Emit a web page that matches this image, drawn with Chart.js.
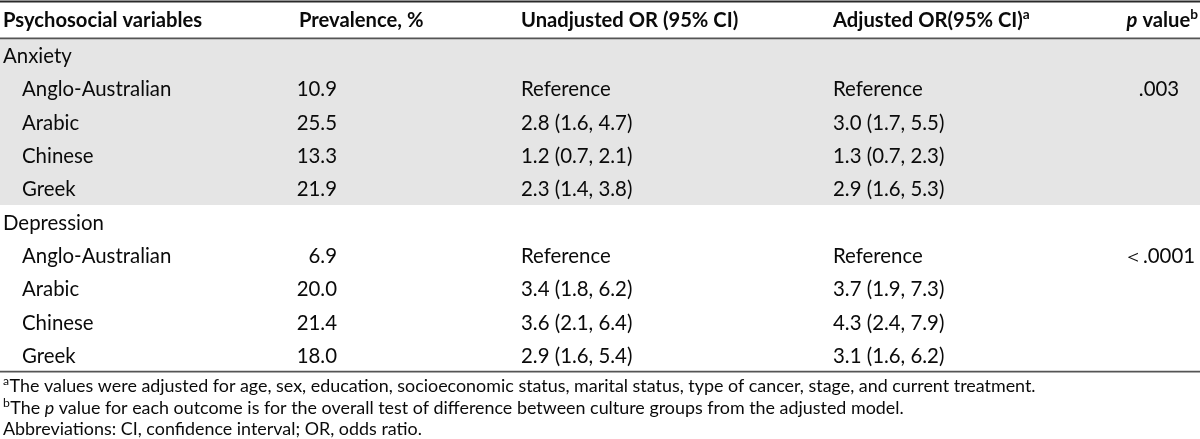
<!DOCTYPE html>
<html><head><meta charset="utf-8">
<script src="https://cdn.jsdelivr.net/npm/chart.js@4.4.0/dist/chart.umd.min.js"></script>
<style>html,body{margin:0;padding:0;background:#fff;}#wrap{width:1200px;height:439px;}</style>
</head><body><div id="wrap"><canvas id="c" width="1200" height="439"></canvas></div>
<script>
// ---- data ----
const headers = ['Psychosocial variables', 'Prevalence, %', 'Unadjusted OR (95% CI)', 'Adjusted OR(95% CI)', 'p value'];
const headerSups = [null, null, null, 'a', 'b'];
const rowLabels = ['Anxiety', 'Anglo-Australian', 'Arabic', 'Chinese', 'Greek',
                   'Depression', 'Anglo-Australian', 'Arabic', 'Chinese', 'Greek'];
const groupRow = [true, false, false, false, false, true, false, false, false, false];
const prevalence = [null, 10.9, 25.5, 13.3, 21.9, null, 6.9, 20.0, 21.4, 18.0];
const unadjustedOR = [null, 'Reference', '2.8 (1.6, 4.7)', '1.2 (0.7, 2.1)', '2.3 (1.4, 3.8)',
                      null, 'Reference', '3.4 (1.8, 6.2)', '3.6 (2.1, 6.4)', '2.9 (1.6, 5.4)'];
const adjustedOR = [null, 'Reference', '3.0 (1.7, 5.5)', '1.3 (0.7, 2.3)', '2.9 (1.6, 5.3)',
                    null, 'Reference', '3.7 (1.9, 7.3)', '4.3 (2.4, 7.9)', '3.1 (1.6, 6.2)'];
const pValues = [null, '.003', null, null, null, null, '\uFF1C.0001', null, null, null];
const footnotes = [
  [{sup: 'a'}, {t: 'The values were adjusted for age, sex, education, socioeconomic status, marital status, type of cancer, stage, and current treatment.'}],
  [{sup: 'b'}, {t: 'The '}, {t: 'p', it: true}, {t: ' value for each outcome is for the overall test of difference between culture groups from the adjusted model.'}],
  [{t: 'Abbreviations: CI, confidence interval; OR, odds ratio.'}]
];

// ---- style ----
const FAM = 'Lato, "Open Sans", sans-serif';
const BODY = 20.4, HEAD = 20.2, FOOT = 17.9;
const TXT = '#0a0a0a';

function drawParts(ctx, parts, x, y, align, size, bold) {
  const w0 = bold ? 'bold ' : '';
  const fonts = parts.map(p => p.sup ? `${w0}${(size*0.68).toFixed(1)}px ${FAM}` :
                                 `${p.it ? 'italic ' : ''}${w0}${size}px ${FAM}`);
  let total = 0;
  parts.forEach((p, i) => { ctx.font = fonts[i]; total += ctx.measureText(p.sup || p.t).width; });
  let cx = align === 'right' ? x - total : align === 'center' ? x - total / 2 : x;
  parts.forEach((p, i) => {
    ctx.font = fonts[i];
    const s = p.sup || p.t;
    ctx.fillText(s, cx, p.sup ? y - size * 0.4 : y);
    cx += ctx.measureText(s).width + (p.sup ? 0.5 : 0);
  });
}

const tablePlugin = {
  id: 'table',
  beforeDraw(chart) {
    const {ctx, chartArea} = chart;
    const y = chart.scales.y;
    const half = (y.getPixelForValue(1) - y.getPixelForValue(0)) / 2;
    ctx.save();
    ctx.fillStyle = '#e5e5e5';
    const t = y.getPixelForValue(0) - half, b = y.getPixelForValue(4) + half;
    ctx.fillRect(chartArea.left, t, chartArea.right - chartArea.left, b - t);
    ctx.restore();
  },
  afterDraw(chart) {
    const {ctx, chartArea} = chart;
    const y = chart.scales.y, x = chart.scales.x;
    const col = {
      label: x.getPixelForValue(3), indent: x.getPixelForValue(22),
      prevHead: x.getPixelForValue(299), prev: x.getPixelForValue(337),
      unadj: x.getPixelForValue(521), adj: x.getPixelForValue(833),
      pHeadR: x.getPixelForValue(1198), p: x.getPixelForValue(1159)
    };
    ctx.save();
    ctx.textBaseline = 'alphabetic';
    ctx.fillStyle = TXT;
    // rules
    ctx.strokeStyle = '#2a2a2a'; ctx.lineWidth = 2;
    ctx.beginPath(); ctx.moveTo(chartArea.left, 1.5); ctx.lineTo(chartArea.right, 1.5); ctx.stroke();
    ctx.strokeStyle = '#555'; ctx.lineWidth = 1.6;
    ctx.beginPath(); ctx.moveTo(chartArea.left, chartArea.top); ctx.lineTo(chartArea.right, chartArea.top); ctx.stroke();
    ctx.beginPath(); ctx.moveTo(chartArea.left, chartArea.bottom); ctx.lineTo(chartArea.right, chartArea.bottom); ctx.stroke();
    // header
    const hb = chartArea.top - 11.3;
    drawParts(ctx, [{t: headers[0]}], col.label, hb, 'left', HEAD, true);
    drawParts(ctx, [{t: headers[1]}], col.prevHead, hb, 'left', HEAD, true);
    drawParts(ctx, [{t: headers[2]}], col.unadj, hb, 'left', HEAD, true);
    drawParts(ctx, [{t: headers[3]}, {sup: headerSups[3]}], col.adj, hb, 'left', HEAD, true);
    drawParts(ctx, [{t: 'p', it: true}, {t: headers[4].slice(1)}, {sup: headerSups[4]}], col.pHeadR, hb, 'right', HEAD, true);
    // body
    rowLabels.forEach((lab, i) => {
      const by = y.getPixelForValue(i) + 8;
      drawParts(ctx, [{t: lab}], groupRow[i] ? col.label : col.indent, by, 'left', BODY, false);
      if (prevalence[i] != null) drawParts(ctx, [{t: prevalence[i].toFixed(1)}], col.prev, by, 'right', BODY, false);
      if (unadjustedOR[i]) drawParts(ctx, [{t: unadjustedOR[i]}], col.unadj, by, 'left', BODY, false);
      if (adjustedOR[i]) drawParts(ctx, [{t: adjustedOR[i]}], col.adj, by, 'left', BODY, false);
      if (pValues[i]) drawParts(ctx, [{t: pValues[i]}], col.p, by, 'center', BODY, false);
    });
    // footnotes
    footnotes.forEach((parts, k) => {
      drawParts(ctx, parts, col.label, chartArea.bottom + 20.8 + k * 21.5, 'left', FOOT, false);
    });
    ctx.restore();
  }
};

new Chart(document.getElementById('c'), {
  type: 'bar',
  data: { labels: rowLabels.map((l, i) => i + ':' + l), datasets: [] },
  options: {
    indexAxis: 'y', responsive: false, animation: false,
    layout: { padding: { top: 38.33, bottom: 67.33, left: 0, right: 0 } },
    plugins: { legend: { display: false }, tooltip: { enabled: false } },
    scales: {
      x: { type: 'linear', min: 0, max: 1200, display: false },
      y: { type: 'category', offset: true, display: false }
    }
  },
  plugins: [tablePlugin]
});
</script></body></html>
